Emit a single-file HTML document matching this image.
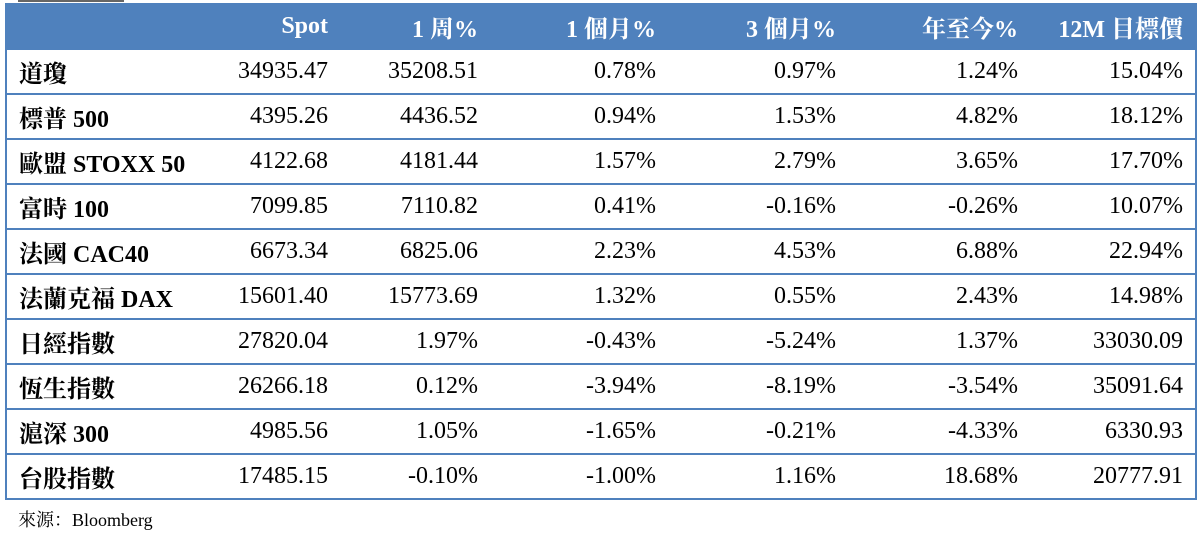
<!DOCTYPE html>
<html><head><meta charset="utf-8"><style>
body{margin:0;width:1200px;height:533px;background:#fff;overflow:hidden;font-family:"Liberation Serif","Noto Serif CJK SC","Noto Sans CJK TC",serif;}
#topline{position:absolute;left:18px;top:0;width:106px;height:2px;background:#666;}
table{position:absolute;left:5px;top:3px;width:1190px;border-collapse:collapse;table-layout:fixed;border-left:2px solid #4f81bd;border-right:2px solid #4f81bd;}
td,th{height:43px;padding:0 3px 0 12px;font-size:24px;color:#000;border-top:2px solid #4f81bd;border-bottom:2px solid #4f81bd;text-align:right;white-space:nowrap;}
td:last-child,th:last-child{padding-right:12px;}
th{background:#4f81bd;color:#fff;font-weight:bold;}
td:first-child,th:first-child{text-align:left;font-weight:bold;}
#src{position:absolute;left:18px;top:506px;font-size:18px;}
</style></head><body>
<div id="topline"></div>
<table>
<colgroup><col style="width:190px"><col style="width:135px"><col style="width:150px"><col style="width:178px"><col style="width:180px"><col style="width:182px"><col style="width:175px"></colgroup>
<tr><th></th><th>Spot</th><th>1 周%</th><th>1 個月%</th><th>3 個月%</th><th>年至今%</th><th>12M 目標價</th></tr>
<tr><td>道瓊</td><td>34935.47</td><td>35208.51</td><td>0.78%</td><td>0.97%</td><td>1.24%</td><td>15.04%</td></tr>
<tr><td>標普 500</td><td>4395.26</td><td>4436.52</td><td>0.94%</td><td>1.53%</td><td>4.82%</td><td>18.12%</td></tr>
<tr><td>歐盟 STOXX 50</td><td>4122.68</td><td>4181.44</td><td>1.57%</td><td>2.79%</td><td>3.65%</td><td>17.70%</td></tr>
<tr><td>富時 100</td><td>7099.85</td><td>7110.82</td><td>0.41%</td><td>-0.16%</td><td>-0.26%</td><td>10.07%</td></tr>
<tr><td>法國 CAC40</td><td>6673.34</td><td>6825.06</td><td>2.23%</td><td>4.53%</td><td>6.88%</td><td>22.94%</td></tr>
<tr><td>法蘭克福 DAX</td><td>15601.40</td><td>15773.69</td><td>1.32%</td><td>0.55%</td><td>2.43%</td><td>14.98%</td></tr>
<tr><td>日經指數</td><td>27820.04</td><td>1.97%</td><td>-0.43%</td><td>-5.24%</td><td>1.37%</td><td>33030.09</td></tr>
<tr><td>恆生指數</td><td>26266.18</td><td>0.12%</td><td>-3.94%</td><td>-8.19%</td><td>-3.54%</td><td>35091.64</td></tr>
<tr><td>滬深 300</td><td>4985.56</td><td>1.05%</td><td>-1.65%</td><td>-0.21%</td><td>-4.33%</td><td>6330.93</td></tr>
<tr><td>台股指數</td><td>17485.15</td><td>-0.10%</td><td>-1.00%</td><td>1.16%</td><td>18.68%</td><td>20777.91</td></tr>
</table>
<div id="src">來源：Bloomberg</div>
</body></html>
